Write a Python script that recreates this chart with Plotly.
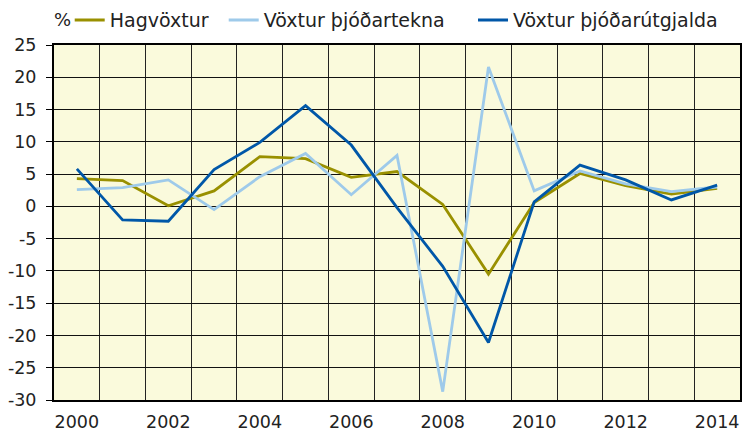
import plotly.graph_objects as go

years = list(range(2000, 2015))
hagvoxtur = [4.3, 4.0, 0.1, 2.4, 7.7, 7.4, 4.5, 5.4, 0.3, -10.5, 0.6, 5.1, 3.2, 1.9, 2.8]
thjodartekjur = [2.6, 2.9, 4.1, -0.5, 4.6, 8.2, 1.8, 7.9, -28.7, 21.6, 2.4, 5.5, 3.5, 2.3, 3.0]
thjodarutgjold = [5.8, -2.1, -2.3, 5.7, 9.9, 15.6, 9.5, -0.2, -9.3, -21.1, 0.7, 6.4, 4.1, 1.0, 3.3]
names = ["Hagvöxtur", "Vöxtur þjóðartekna", "Vöxtur þjóðarútgjalda"]
colors = ["#999000", "#9ECAEA", "#0057A8"]
x_ticks = list(range(2000, 2015, 2))
y_ticks = list(range(-30, 26, 5))
y_ticktext = [str(v) for v in y_ticks]

legend_ids = ["legend", "legend2", "legend3"]
legend_x = [0.0229, 0.2474, 0.6108]

fig = go.Figure()
for n, vals, c, lg in zip(names, [hagvoxtur, thjodartekjur, thjodarutgjold], colors, legend_ids):
    fig.add_trace(go.Scatter(x=years, y=vals, mode="lines", name=n, legend=lg,
                             line=dict(color=c, width=2.8)))

family = "Verdana, DejaVu Sans, sans-serif"
font = dict(family=family, size=19, color="#222222")
tickfont = dict(family=family, size=17.5, color="#222222")

legends = {}
for lg, lx in zip(legend_ids, legend_x):
    legends[lg] = dict(orientation="h", x=lx, xanchor="left", y=1.067, yanchor="middle",
                       font=font, bgcolor="rgba(0,0,0,0)", itemwidth=30)

fig.update_layout(
    width=742, height=432,
    margin=dict(l=54, r=2, t=44, b=32),
    paper_bgcolor="white",
    plot_bgcolor="#FAFADC",
    font=font,
    showlegend=True,
    annotations=[dict(text="%", xref="paper", yref="paper", x=0.012, y=1.072,
                      xanchor="center", yanchor="middle", showarrow=False,
                      font=dict(family=family, size=18, color="#222222"))],
    **legends,
)
fig.update_xaxes(
    range=[1999.5, 2014.5], tickmode="array", tickvals=x_ticks,
    ticktext=[str(v) for v in x_ticks], showgrid=False, zeroline=False,
    showline=True, linecolor="black", linewidth=1.5, mirror=True,
    ticks="", ticklen=0, automargin=False, tickfont=tickfont, ticklabelstandoff=5,
    minor=dict(tickmode="linear", tick0=1999.5, dtick=1, showgrid=True,
               gridcolor="#222222", gridwidth=1, ticks=""),
)
fig.update_yaxes(
    range=[-30, 25], tickmode="array", tickvals=y_ticks, ticktext=y_ticktext,
    showgrid=True, gridcolor="#111111", gridwidth=1, zeroline=False,
    showline=True, linecolor="black", linewidth=2, mirror=True,
    ticks="outside", ticklen=6, tickcolor="black", automargin=False,
    tickfont=tickfont, ticklabelstandoff=6,
)
fig.write_html("out.html", config={"displayModeBar": False},
               post_script="document.body.style.margin='0';")
